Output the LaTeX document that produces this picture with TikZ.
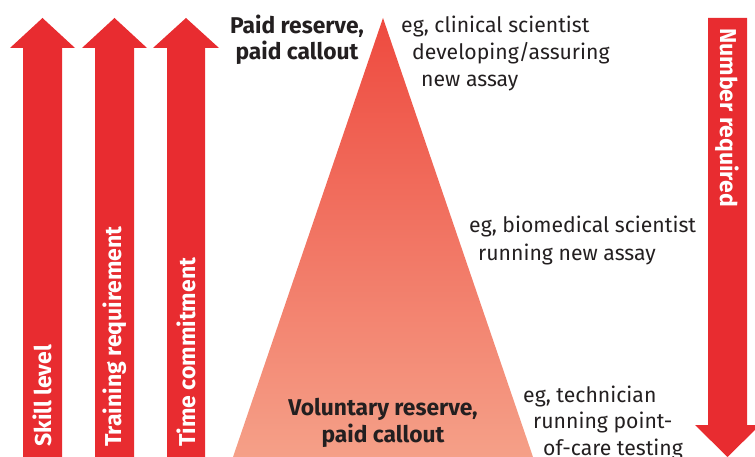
\documentclass[tikz,border=0pt]{standalone}
\usepackage{fontspec}
\setmainfont{Fira Sans}
\definecolor{bmjred}{HTML}{E82C30}
\definecolor{tritop}{HTML}{EE4A3F}
\definecolor{tribot}{HTML}{F5A088}
\definecolor{ink}{HTML}{231F20}
\begin{document}
\begin{tikzpicture}[x=1pt,y=-1pt,
  arrowfill/.style={fill=bmjred},
  arrowlabel/.style={text=white,font=\fontsize{23}{24}\selectfont\bfseries,inner sep=0pt},
  note/.style={text=ink,font=\fontsize{21.2}{26}\selectfont,inner sep=0pt,anchor=base west},
  tierlabel/.style={text=ink,font=\fontsize{22.8}{26.5}\selectfont\bfseries,inner sep=0pt,align=center}]
\useasboundingbox (0,0) rectangle (755,457);
% up arrows
\fill[arrowfill] (23,457) -- (23,48) -- (10,48) -- (42.5,18) -- (75,48) -- (62,48) -- (62,457) -- cycle;
\fill[arrowfill] (95,457) -- (95,48) -- (82,48) -- (114.5,18) -- (147,48) -- (134,48) -- (134,457) -- cycle;
\fill[arrowfill] (167,457) -- (167,48) -- (153,48) -- (186,18) -- (219,48) -- (205,48) -- (205,457) -- cycle;
% down arrow
\fill[arrowfill] (708,18) -- (747,18) -- (747,425) -- (760,425) -- (727.5,457) -- (695,425) -- (708,425) -- cycle;
% triangle
\shade[top color=tritop,bottom color=tribot] (383,18) -- (533,457) -- (233,457) -- cycle;
% arrow labels
\node[arrowlabel,rotate=90,anchor=west] (skill) at (42.5,447) {Skill level};
\node[arrowlabel,rotate=90,anchor=west] (training) at (114.5,447) {Training requirement};
\node[arrowlabel,rotate=90,anchor=west] (time) at (186,447) {Time commitment};
\node[arrowlabel,rotate=-90,anchor=west] (number) at (727.5,28) {Number required};
% tier labels
\node[tierlabel] (paid) at (297,40) {Paid reserve,\\paid callout};
\node[tierlabel] (vol) at (383,423) {Voluntary reserve,\\paid callout};
% notes
\node[note] (n1a) at (401,33) {eg, clinical scientist};
\node[note] (n1b) at (412,60) {developing/assuring};
\node[note] (n1c) at (421,87) {new assay};
\node[note] (n2a) at (469,233) {eg, biomedical scientist};
\node[note] (n2b) at (478,260) {running new assay};
\node[note] (n3a) at (523,402) {eg, technician};
\node[note] (n3b) at (533,428) {running point-};
\node[note] (n3c) at (543,455) {of-care testing};
\end{tikzpicture}
\end{document}
